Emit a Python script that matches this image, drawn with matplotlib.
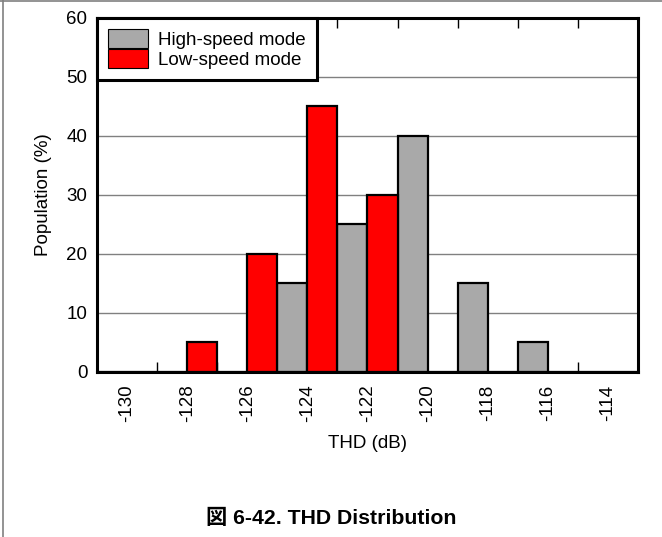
import numpy as np
import matplotlib
matplotlib.use('Agg')
import matplotlib.pyplot as plt
from matplotlib.patches import Patch
from matplotlib.lines import Line2D

plt.rcParams['font.family'] = ['Liberation Sans', 'Noto Sans CJK JP', 'DejaVu Sans']

# THD bins (dB) and population (%) per mode
thd_bins = ['-130', '-128', '-126', '-124', '-122', '-120', '-118', '-116', '-114']
high_speed = [0, 0, 0, 15, 25, 40, 15, 5, 0]
low_speed = [0, 5, 20, 45, 30, 0, 0, 0, 0]

gray = '#a9a9a9'
red = '#ff0000'
fs = 13.5

fig = plt.figure(figsize=(6.62, 5.37), dpi=100)
ax = fig.add_axes([0.1465, 0.3073, 0.8172, 0.6592])

x = np.arange(len(thd_bins))
ax.bar(x - 0.25, high_speed, width=0.5, color=gray, edgecolor='black', linewidth=1.6, zorder=2)
ax.bar(x + 0.25, low_speed, width=0.5, color=red, edgecolor='black', linewidth=1.6, zorder=2)

ax.set_xlim(-0.5, len(thd_bins) - 0.5)
ax.set_ylim(0, 60)
ax.set_yticks(np.arange(0, 61, 10))
ax.yaxis.grid(True, color='#808080', linewidth=1.0, zorder=0)
ax.set_axisbelow(True)

ax.set_xticks(x)
ax.set_xticklabels(thd_bins, rotation=90, fontsize=fs)
ax.set_xticks(np.arange(-0.5, len(thd_bins)), minor=True)
ax.tick_params(axis='x', which='major', length=0, pad=9)
ax.tick_params(axis='x', which='minor', direction='in', length=7, width=1.0, top=True, bottom=True)
ax.tick_params(axis='y', length=0, pad=7, labelsize=fs)

for s in ax.spines.values():
    s.set_linewidth(2.2)
    s.set_zorder(3)

ax.set_xlabel('THD (dB)', fontsize=fs, labelpad=9)
ax.set_ylabel('Population (%)', fontsize=fs, labelpad=10)

handles = [Patch(facecolor=gray, edgecolor='black', linewidth=0.8, label='High-speed mode'),
           Patch(facecolor=red, edgecolor='black', linewidth=0.8, label='Low-speed mode')]
leg = ax.legend(handles=handles, loc='upper left', bbox_to_anchor=(0, 1), borderaxespad=0,
                fontsize=fs, frameon=True, fancybox=False, framealpha=1, edgecolor='black',
                handlelength=2.13, handleheight=1.2, labelspacing=0, handletextpad=0.53,
                borderpad=0.6)
leg.get_frame().set_linewidth(2.2)
leg.set_zorder(4)

fig.text(0.5, 0.034, '図 6-42. THD Distribution', ha='center', va='center',
         fontsize=15.3, fontweight='bold')

# page frame lines (top and left)
fig.add_artist(Line2D([0, 1], [0.998, 0.998], transform=fig.transFigure, color='#808080', linewidth=1.2))
fig.add_artist(Line2D([0.005, 0.005], [0, 1], transform=fig.transFigure, color='#808080', linewidth=1.2))

fig.savefig('out.png', dpi=100)
